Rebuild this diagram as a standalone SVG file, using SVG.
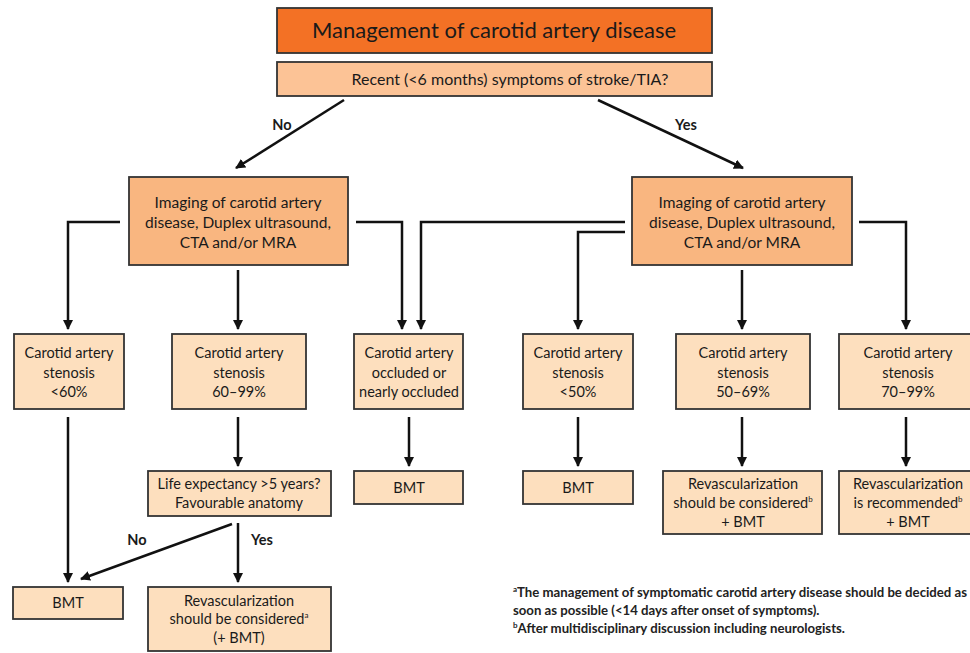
<svg xmlns="http://www.w3.org/2000/svg" width="970" height="653" viewBox="0 0 970 653">
<defs>
<marker id="ah" viewBox="0 0 10 10" refX="9" refY="5" markerWidth="4" markerHeight="4" orient="auto" markerUnits="strokeWidth">
<path d="M0,0 L10,5 L0,10 z" fill="#111"/>
</marker>
<style>
text{font-family:Lato,"Open Sans","Liberation Sans",sans-serif;fill:#1a1a1a;text-anchor:middle}
.title{font-size:22px}
.q{font-size:16px}
.img{font-size:15.5px}
.n{font-size:14.5px}
.lbl{font-size:14.5px;font-weight:bold}
.fn{font-size:13.2px;text-anchor:start;font-weight:bold;fill:#222}
.b{stroke:#333;stroke-width:1.8}
.t{fill:#F37125}
.s{fill:#FCC396}
.i{fill:#F9B680}
.w{fill:#FDDFBE}
.c{fill:none;stroke:#111;stroke-width:2.5;marker-end:url(#ah)}
.sup{font-size:8px}
</style>
</defs>
<rect width="970" height="653" fill="#fff"/>

<g id="title"><rect class="b t" x="277" y="8" width="435" height="45"/><text class="title" x="494" y="38">Management of carotid artery disease</text></g>
<g id="question"><rect class="b s" x="277" y="62" width="435" height="34"/><text class="q" x="510" y="85">Recent (&lt;6 months) symptoms of stroke/TIA?</text></g>

<g id="imgL"><rect class="b i" x="129" y="177" width="219" height="88"/>
<text class="img" x="238" y="208">Imaging of carotid artery</text>
<text class="img" x="238" y="228">disease, Duplex ultrasound,</text>
<text class="img" x="238" y="248">CTA and/or MRA</text></g>
<g id="imgR"><rect class="b i" x="632" y="177" width="220" height="88"/>
<text class="img" x="742" y="208">Imaging of carotid artery</text>
<text class="img" x="742" y="228">disease, Duplex ultrasound,</text>
<text class="img" x="742" y="248">CTA and/or MRA</text></g>

<g id="s60"><rect class="b w" x="14" y="334" width="110" height="75"/>
<text class="n" x="69" y="358">Carotid artery</text><text class="n" x="69" y="378">stenosis</text><text class="n" x="69" y="397">&lt;60%</text></g>
<g id="s6099"><rect class="b w" x="172" y="334" width="134" height="75"/>
<text class="n" x="239" y="358">Carotid artery</text><text class="n" x="239" y="378">stenosis</text><text class="n" x="239" y="397">60–99%</text></g>
<g id="occl"><rect class="b w" x="354" y="334" width="109" height="75"/>
<text class="n" x="409" y="358">Carotid artery</text><text class="n" x="409" y="378">occluded or</text><text class="n" x="409" y="397">nearly occluded</text></g>
<g id="s50"><rect class="b w" x="523" y="334" width="110" height="75"/>
<text class="n" x="578" y="358">Carotid artery</text><text class="n" x="578" y="378">stenosis</text><text class="n" x="578" y="397">&lt;50%</text></g>
<g id="s5069"><rect class="b w" x="676" y="334" width="134" height="75"/>
<text class="n" x="743" y="358">Carotid artery</text><text class="n" x="743" y="378">stenosis</text><text class="n" x="743" y="397">50–69%</text></g>
<g id="s7099"><rect class="b w" x="839" y="334" width="132" height="75"/>
<text class="n" x="908" y="358">Carotid artery</text><text class="n" x="908" y="378">stenosis</text><text class="n" x="908" y="397">70–99%</text></g>

<g id="life"><rect class="b w" x="148" y="471" width="183" height="45"/>
<text class="n" x="239" y="489">Life expectancy &gt;5 years?</text><text class="n" x="239" y="508">Favourable anatomy</text></g>
<g id="bmtOcc"><rect class="b w" x="354" y="471" width="109" height="33"/><text class="n" x="409" y="493">BMT</text></g>
<g id="bmt50"><rect class="b w" x="523" y="471" width="110" height="33"/><text class="n" x="578" y="493">BMT</text></g>
<g id="rev5069"><rect class="b w" x="663" y="471" width="159" height="63"/>
<text class="n" x="743" y="489">Revascularization</text><text class="n" x="743" y="508">should be considered<tspan class="sup" dy="-6">b</tspan></text><text class="n" x="743" y="527">+ BMT</text></g>
<g id="rev7099"><rect class="b w" x="839" y="471" width="132" height="63"/>
<text class="n" x="908" y="489">Revascularization</text><text class="n" x="908" y="508">is recommended<tspan class="sup" dy="-6">b</tspan></text><text class="n" x="908" y="527">+ BMT</text></g>

<g id="bmtL"><rect class="b w" x="13" y="587" width="110" height="32"/><text class="n" x="68" y="608">BMT</text></g>
<g id="revL"><rect class="b w" x="148" y="587" width="183" height="64"/>
<text class="n" x="239" y="606">Revascularization</text><text class="n" x="239" y="624">should be considered<tspan class="sup" dy="-6">a</tspan></text><text class="n" x="239" y="643">(+ BMT)</text></g>

<g id="connectors">
<path class="c" d="M344,100 L236,168"/>
<path class="c" d="M598,100 L743,168"/>
<path class="c" d="M120,222 H68 V329"/>
<path class="c" d="M238,270 V329"/>
<path class="c" d="M356,222 H402 V329"/>
<path class="c" d="M625,222 H421 V329"/>
<path class="c" d="M625,232 H578 V329"/>
<path class="c" d="M742,270 V329"/>
<path class="c" d="M859,222 H906 V329"/>
<path class="c" d="M68,417 V582"/>
<path class="c" d="M238,417 V466"/>
<path class="c" d="M409,417 V466"/>
<path class="c" d="M578,417 V466"/>
<path class="c" d="M742,417 V466"/>
<path class="c" d="M906,417 V466"/>
<path class="c" d="M232,524 L81,579"/>
<path class="c" d="M238,523 V582"/>
</g>
<g id="labels">
<text class="lbl" x="282" y="130">No</text>
<text class="lbl" x="686" y="130">Yes</text>
<text class="lbl" x="137" y="545">No</text>
<text class="lbl" x="262" y="545">Yes</text>
</g>
<g id="footnotes">
<text class="fn" x="513" y="597"><tspan class="sup" dy="-5">a</tspan><tspan dy="5">The management of symptomatic carotid artery disease should be decided as</tspan></text>
<text class="fn" x="513" y="615">soon as possible (&lt;14 days after onset of symptoms).</text>
<text class="fn" x="513" y="633"><tspan class="sup" dy="-5">b</tspan><tspan dy="5">After multidisciplinary discussion including neurologists.</tspan></text>
</g>
</svg>
